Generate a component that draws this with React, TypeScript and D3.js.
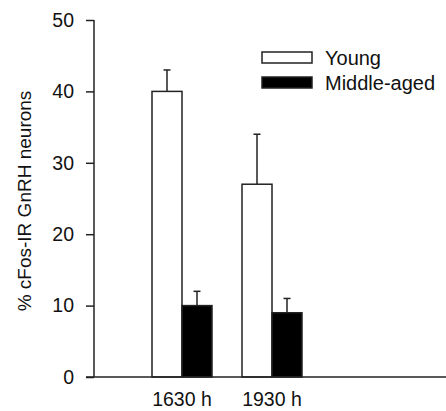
import React, { useEffect, useRef } from "react";
import * as d3 from "d3";

const categories = ["1630 h", "1930 h"];
const seriesNames = ["Young", "Middle-aged"];
const youngValues = [40, 27];
const youngErrors = [3, 7];
const middleValues = [10, 9];
const middleErrors = [2, 2];
const yTicks = [0, 10, 20, 30, 40, 50];

const App = () => {
  const svgRef = useRef<SVGSVGElement>(null);

  useEffect(() => {
    const svg = d3.select(svgRef.current);
    svg.selectAll("*").remove();

    const width = 446;
    const height = 411;
    const font = "'Liberation Sans', Arial, sans-serif";
    const ink = "#222";

    const yScale = d3.scaleLinear().domain([0, 50]).range([377, 20]);
    const xScale = d3.scaleBand().domain(categories).range([137, 317]).paddingInner(0).paddingOuter(0);
    const subScale = d3.scaleBand().domain(seriesNames).range([0, xScale.bandwidth()]).paddingInner(0).paddingOuter(0.5);
    const fills: Record<string, string> = { Young: "#ffffff", "Middle-aged": "#000000" };

    const rows = categories.flatMap((c, i) => [
      { cat: c, key: "Young", value: youngValues[i], err: youngErrors[i] },
      { cat: c, key: "Middle-aged", value: middleValues[i], err: middleErrors[i] },
    ]);

    // error bars, only the upper half shows
    const errG = svg.append("g").attr("stroke", ink).attr("stroke-width", 1.5);
    rows.forEach((d) => {
      const cx = (xScale(d.cat) ?? 0) + (subScale(d.key) ?? 0) + subScale.bandwidth() / 2;
      errG.append("line").attr("x1", cx).attr("x2", cx).attr("y1", yScale(d.value)).attr("y2", yScale(d.value + d.err));
      errG.append("line").attr("x1", cx - 3.5).attr("x2", cx + 3.5).attr("y1", yScale(d.value + d.err)).attr("y2", yScale(d.value + d.err));
    });

    // bars
    svg
      .append("g")
      .selectAll("rect")
      .data(rows)
      .enter()
      .append("rect")
      .attr("x", (d) => (xScale(d.cat) ?? 0) + (subScale(d.key) ?? 0))
      .attr("y", (d) => yScale(d.value))
      .attr("width", subScale.bandwidth())
      .attr("height", (d) => yScale(0) - yScale(d.value))
      .attr("fill", (d) => fills[d.key])
      .attr("stroke", ink)
      .attr("stroke-width", 1.5);

    // y axis
    const yAxis = svg
      .append("g")
      .attr("transform", "translate(94,0)")
      .call(d3.axisLeft(yScale).tickValues(yTicks).tickSize(8).tickPadding(12));
    yAxis.select(".domain").attr("stroke", ink).attr("stroke-width", 1.5).attr("d", `M0,${yScale(0)}V${yScale(50)}`);
    yAxis.selectAll(".tick line").attr("stroke", ink).attr("stroke-width", 1.5);
    yAxis.selectAll(".tick text").attr("font-family", font).attr("font-size", 19.5).attr("fill", "#111");

    // x axis
    const xAxis = svg
      .append("g")
      .attr("transform", `translate(0,${yScale(0)})`)
      .call(d3.axisBottom(xScale).tickSize(0).tickPadding(15));
    xAxis.select(".domain").attr("stroke", ink).attr("stroke-width", 1.5).attr("d", `M86,0H${width}`);
    xAxis.selectAll(".tick text").attr("font-family", font).attr("font-size", 19.5).attr("fill", "#111");

    // y label
    svg
      .append("text")
      .attr("transform", "translate(31,201) rotate(-90)")
      .attr("text-anchor", "middle")
      .attr("font-family", font)
      .attr("font-size", 19)
      .attr("fill", "#111")
      .text("% cFos-IR GnRH neurons");

    // legend
    const legend = svg.append("g").attr("transform", "translate(262,52)");
    seriesNames.forEach((name, i) => {
      const g = legend.append("g").attr("transform", `translate(0,${i * 25})`);
      g.append("rect")
        .attr("width", 50)
        .attr("height", 11)
        .attr("fill", fills[name])
        .attr("stroke", ink)
        .attr("stroke-width", 1.5);
      g.append("text")
        .attr("x", 63)
        .attr("y", 12.5)
        .attr("font-family", font)
        .attr("font-size", 20)
        .attr("fill", "#111")
        .text(name);
    });

    svg.attr("width", width).attr("height", height);
  }, []);

  return (
    <div style={{ position: "absolute", left: 0, top: 0 }}>
      <svg ref={svgRef} width={446} height={411} style={{ display: "block" }}></svg>
    </div>
  );
};

export default App;
